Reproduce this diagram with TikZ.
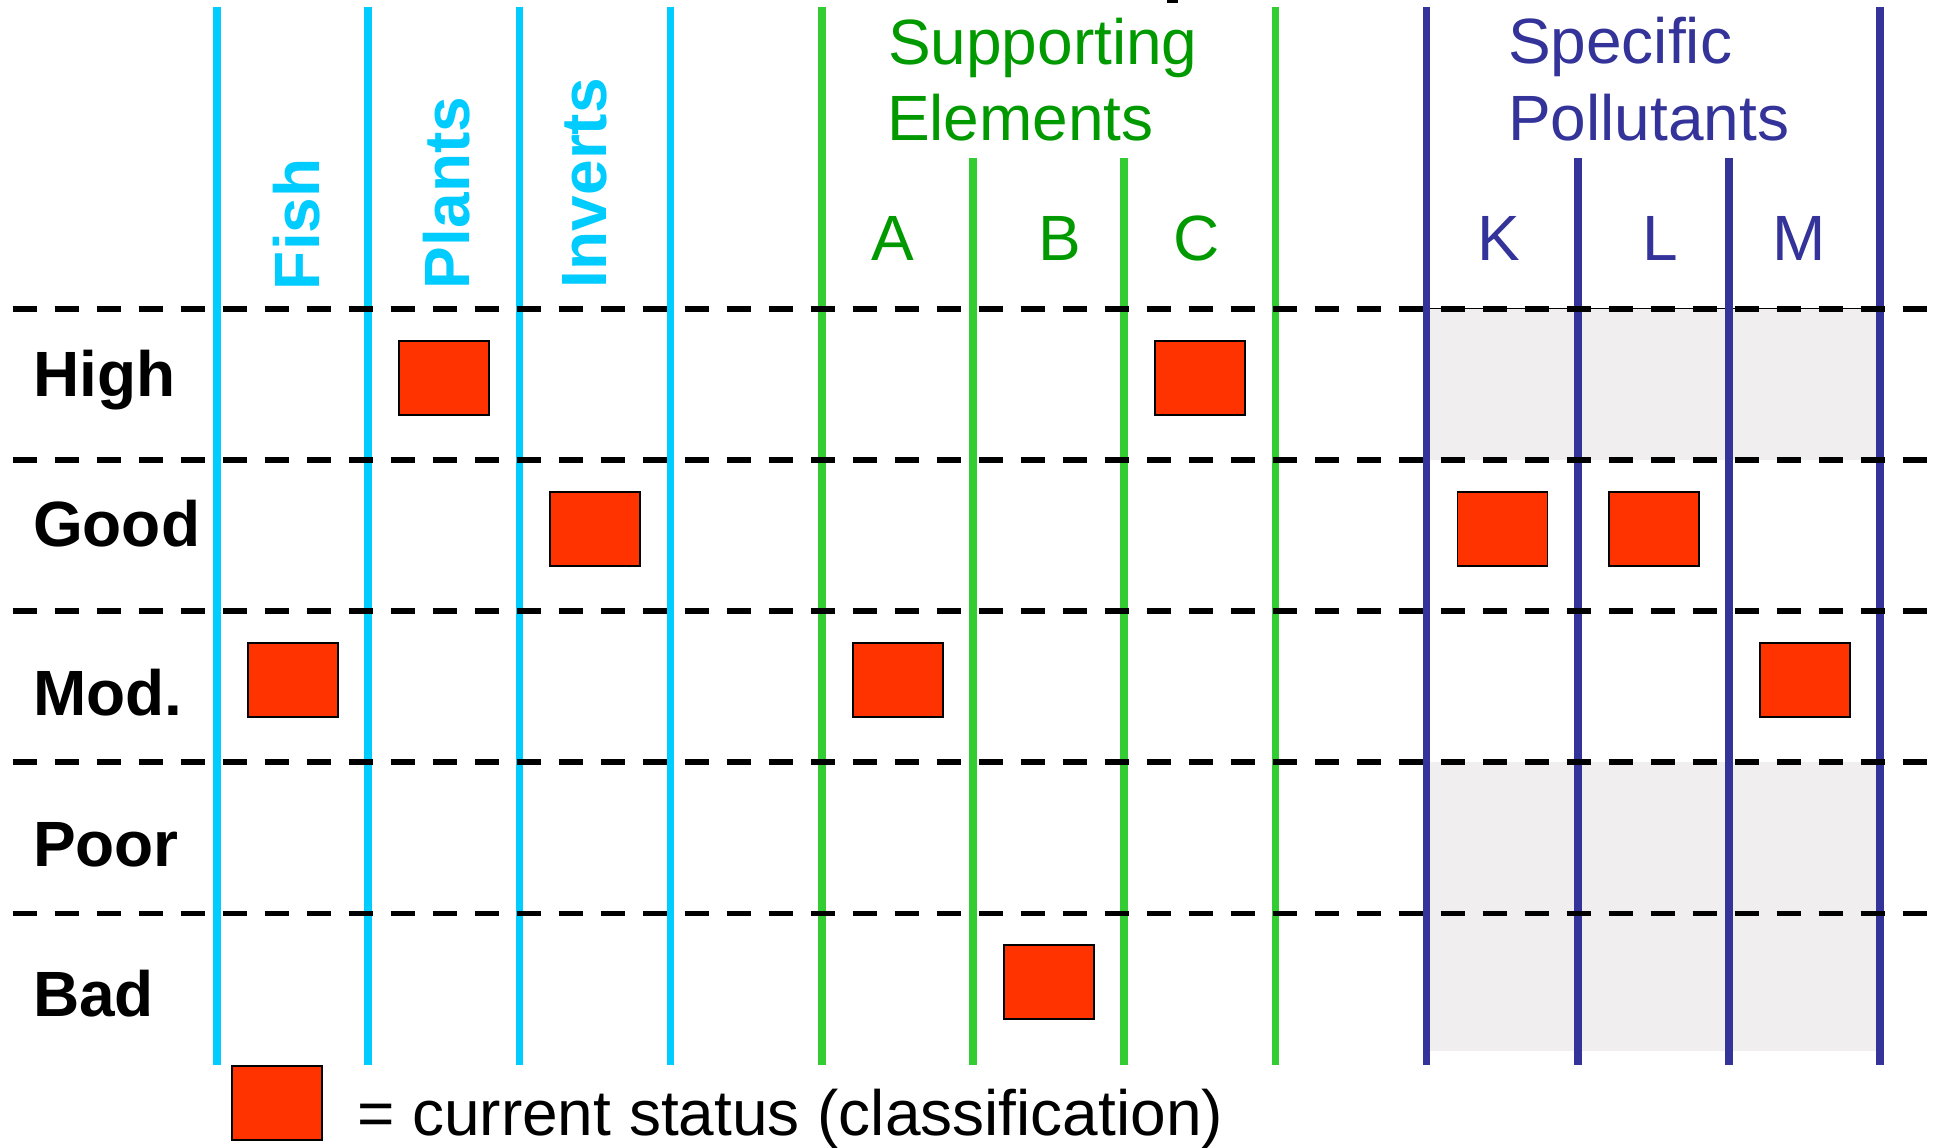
\documentclass[tikz,border=0pt]{standalone}
\usepackage{fontspec}
\setmainfont{Liberation Sans}
\definecolor{cyanline}{HTML}{00CCFF}
\definecolor{greenline}{HTML}{33CC33}
\definecolor{greentext}{HTML}{009900}
\definecolor{blueline}{HTML}{333399}
\definecolor{statusred}{HTML}{FF3300}
\definecolor{greyshade}{HTML}{F0EEEF}
\begin{document}
\begin{tikzpicture}[x=1pt,y=-1pt,
  txt/.style={font=\fontsize{64}{76}\selectfont, inner sep=0pt, outer sep=0pt},
  rowlbl/.style={txt, font=\fontsize{64}{76}\selectfont\bfseries, anchor=base west, text=black},
  grouplbl/.style={txt, font=\fontsize{64}{76}\selectfont\bfseries, anchor=base west, rotate=90, text=cyanline},
  sublbl/.style={txt, anchor=base},
  headlbl/.style={txt, anchor=base west},
  status/.style={draw=black, line width=1.8pt, fill=statusred, minimum width=90pt, minimum height=74pt, inner sep=0pt},
  vline/.style={line width=7.5pt},
  hdash/.style={line width=5.8pt, dash pattern=on 24.3pt off 17.7pt}
]
\useasboundingbox (0,0) rectangle (1936,1148);
\fill[white] (0,0) rectangle (1936,1148);

% grey shading for specific pollutants
\fill[greyshade] (1426.6,308.7) rectangle (1880.2,459.9);
\fill[greyshade] (1426.6,762.3) rectangle (1880.2,1050.7);
\draw[line width=1.2pt, black] (1426.6,308.7) -- (1880.2,308.7);

% tiny cut-off mark at the top
\fill[black] (1167,0) rectangle (1178,3);

% vertical lines
\foreach \i in {0,1,2,3} \draw[vline, cyanline] ({217+151.2*\i},7) -- ({217+151.2*\i},1065);
\foreach \i in {4,7} \draw[vline, greenline] ({217+151.2*\i},7) -- ({217+151.2*\i},1065);
\foreach \i in {5,6} \draw[vline, greenline] ({217+151.2*\i},158.3) -- ({217+151.2*\i},1065);
\foreach \i in {8,11} \draw[vline, blueline] ({217+151.2*\i},7) -- ({217+151.2*\i},1065);
\foreach \i in {9,10} \draw[vline, blueline] ({217+151.2*\i},158.3) -- ({217+151.2*\i},1065);

% dashed row separators
\foreach \y in {308.7,459.9,611.1,762.3,913.5} \draw[hdash, black] (12.7,\y) -- (1936,\y);

% row labels
\node[rowlbl] (high) at (33,396.7) {High};
\node[rowlbl] (good) at (33,546.7) {Good};
\node[rowlbl] (mod)  at (33,715) {Mod.};
\node[rowlbl] (poor) at (33,866) {Poor};
\node[rowlbl] (bad)  at (33,1016) {Bad};

% biological group labels
\node[grouplbl] (fish)    at (319,290) {Fish};
\node[grouplbl] (plants)  at (469.3,289) {Plants};
\node[grouplbl] (inverts) at (606,288) {Inverts};

% supporting elements
\node[headlbl, text=greentext] (sup1) at (888,64) {Supporting};
\node[headlbl, text=greentext] (sup2) at (887,140) {Elements};
\node[sublbl, text=greentext] (la) at (892.7,260) {A};
\node[sublbl, text=greentext] (lb) at (1059.4,260) {B};
\node[sublbl, text=greentext] (lc) at (1196.4,260) {C};

% specific pollutants
\node[headlbl, text=blueline] (spe1) at (1508,63.3) {Specific};
\node[headlbl, text=blueline] (spe2) at (1508,140) {Pollutants};
\node[sublbl, text=blueline] (lk) at (1499,260) {K};
\node[sublbl, text=blueline] (ll) at (1660.7,260) {L};
\node[sublbl, text=blueline] (lm) at (1798.7,260) {M};

% status markers
\node[status] (s1) at (444.1,377.6) {};
\node[status] (s2) at (1200.1,377.6) {};
\node[status] (s3) at (595.3,528.8) {};
\node[status] (s4) at (1502.5,528.8) {};
\node[status] (s5) at (1653.7,528.8) {};
\node[status] (s6) at (292.9,680) {};
\node[status] (s7) at (897.7,680) {};
\node[status] (s8) at (1804.9,680) {};
\node[status] (s9) at (1048.9,982.2) {};

% legend
\node[status] (legbox) at (277,1103) {};
\node[txt, anchor=base west] (legtxt) at (357,1135) {= current status (classification)};
\end{tikzpicture}
\end{document}
